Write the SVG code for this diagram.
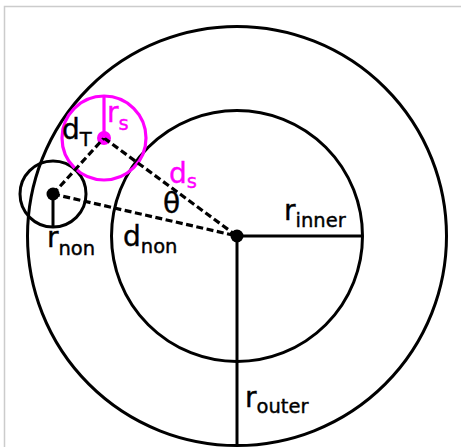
<svg xmlns="http://www.w3.org/2000/svg" width="461" height="447" viewBox="0 0 461 447">
<style>
.c{fill:none;stroke:#000;stroke-width:3}
.m{fill:none;stroke:#ff00ff;stroke-width:3.2}
.s{stroke:#000;stroke-width:3}
.d{stroke:#000;stroke-width:3.2;stroke-dasharray:7 3.5;fill:none}
text{font-family:"DejaVu Sans",Verdana,sans-serif;font-size:28px;fill:#000;stroke:#000;stroke-width:0.4}
.sub{font-size:19.5px}
.mg{fill:#ff00ff;stroke:#ff00ff}
</style>
<rect width="461" height="447" fill="#fff"/>
<path d="M4.5 447V6.5H461" fill="none" stroke="#cccccc" stroke-width="1.5"/>
<g id="outer"><circle class="c" cx="237" cy="236" r="209.5"/></g>
<g id="inner"><circle class="c" cx="237" cy="236" r="125.5"/></g>
<g id="non"><circle class="c" cx="53" cy="194" r="33"/><circle cx="53" cy="194" r="6.5"/></g>
<g id="sat"><circle class="m" cx="104" cy="138" r="42"/><circle cx="104" cy="138" r="7" fill="#ff00ff"/></g>
<g id="center"><circle cx="237" cy="236" r="6.5"/></g>
<g id="connectors">
<line class="d" x1="53" y1="194" x2="104" y2="138"/>
<line class="d" x1="104" y1="138" x2="237" y2="236"/>
<line class="d" x1="53" y1="194" x2="237" y2="236"/>
<line class="s" x1="237" y1="236" x2="362" y2="236"/>
<line class="s" x1="237" y1="236" x2="237" y2="445.5"/>
<line class="s" x1="53" y1="194" x2="53" y2="227"/>
<line stroke="#ff00ff" stroke-width="3.2" x1="104" y1="138" x2="104" y2="96"/>
</g>
<g id="labels">
<text x="107" y="122" class="mg">r<tspan class="sub" dy="8">s</tspan></text>
<text x="62" y="139">d<tspan class="sub" dy="7">T</tspan></text>
<text x="169" y="183" class="mg">d<tspan class="sub" dy="5">s</tspan></text>
<text x="163" y="213">θ</text>
<text x="123" y="246">d<tspan class="sub" dy="7">non</tspan></text>
<text x="47" y="247">r<tspan class="sub" dy="8">non</tspan></text>
<text x="284" y="220">r<tspan class="sub" dy="7">inner</tspan></text>
<text x="245" y="407">r<tspan class="sub" dy="6">outer</tspan></text>
</g>
</svg>
